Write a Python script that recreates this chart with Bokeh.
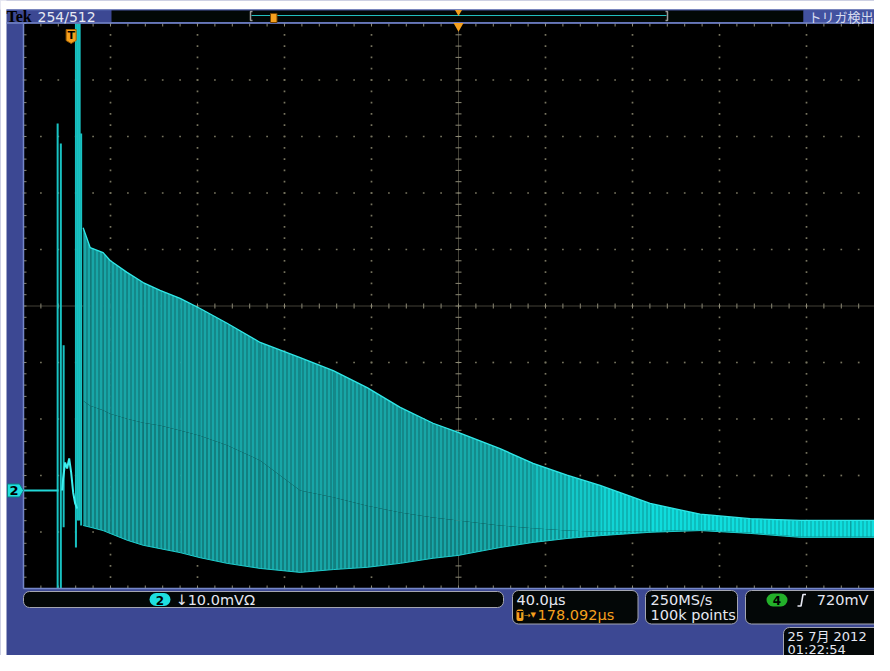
import numpy as np
from bokeh.plotting import figure
from bokeh.models import Range1d, BoxAnnotation
from bokeh.core.properties import value
from bokeh.embed import file_html
from bokeh.resources import INLINE

# ---------------- scope settings ----------------
time_per_div_us = 40.0
volts_per_div_mv = 10.0
trigger_delay_us = 178.092          # trigger -> centre of screen
n_hdiv = 10
n_vdiv = 10
ground_div_below_centre = 3.265     # channel 2 ground marker, divisions below centre

# ---------------- trace (us / mV) ----------------
# flat baseline before the burst
base_t = [-21.9, -5.8]
base_v = [0.0, 0.0]

# early spikes: time, top, bottom
spike_t = [-6.21, -4.74, -3.45, 2.20, 3.13, 3.91, 4.60]
spike_hi = [64.96, 61.40, 25.70, 82.65, 82.65, 82.65, 63.20]
spike_lo = [-17.35, -17.35, -6.50, -10.10, -5.30, -5.30, -6.20]

# small wiggle between the spikes
wig_t = [-4.14, -3.68, -2.76, -1.84, -0.92, 0.0, 0.92, 1.84, 2.76]
wig_v = [0.0, 2.12, 4.96, 3.89, 5.66, 3.19, -0.35, -2.30, -3.19]

# envelope of the ringing
env_t = [5.52, 8.74, 14.7, 17.9, 25.7, 33.1, 40.9, 50.1, 59.3, 71.7, 86.9, 105.3,
         120.5, 136.1, 151.3, 166.4, 177.9, 197.2, 212.4, 228.0, 243.2, 266.2,
         289.2, 312.2, 335.2, 358.2, 377.9]
env_hi = [46.5, 43.0, 42.1, 40.7, 38.6, 36.8, 35.4, 34.0, 32.2, 29.6, 26.2, 23.5,
          21.2, 18.2, 14.7, 11.9, 10.3, 7.4, 4.8, 2.7, 0.9, -2.3,
          -4.2, -5.0, -5.3, -5.3, -5.3]
env_lo = [-6.2, -6.5, -7.1, -7.6, -8.8, -9.7, -10.3, -11.0, -11.9, -12.9, -13.8, -14.5,
          -14.0, -13.6, -12.9, -12.0, -11.5, -10.1, -9.2, -8.5, -8.0, -7.4,
          -7.1, -7.6, -8.3, -8.3, -8.3]
# lower edge of the densely written part of the ringing, same times
dense_lo = [15.9, 15.0, 14.2, 13.6, 12.7, 12.0, 11.5, 10.6, 9.7, 8.0, 5.3, 0.0,
            -1.2, -2.7, -3.9, -4.8, -5.3, -6.2, -6.7, -7.1, -7.3, -7.2,
            -7.0, -7.5, -8.2, -8.2, -8.2]

# ---------------- readouts ----------------
record_label = "254/512"
status_label = "トリガ検出"
ch_label = "2"
ch_scale = "↓10.0mVΩ"
hscale = "40.0µs"
hdelay = "178.092µs"
srate = "250MS/s"
rlen = "100k points"
trig_ch = "4"
trig_level = "720mV"
date_txt = "25 7月  2012"
time_txt = "01:22:54"

# ---------------- geometry (pixels from the top-left corner) ----------------
W, H = 874, 655
grat_left_px, grat_top_px = 23.0, 23.0
div_w_px, div_h_px = 87.0, 56.5


def X(xr):
    return xr


def Y(yr):
    return H - yr


t_left = trigger_delay_us - n_hdiv / 2 * time_per_div_us
t_right = t_left + n_hdiv * time_per_div_us
t_c = trigger_delay_us
v_bot = -(n_vdiv / 2 - ground_div_below_centre) * volts_per_div_mv
v_top = v_bot + n_vdiv * volts_per_div_mv
v_c = v_bot + n_vdiv / 2 * volts_per_div_mv
us_px = time_per_div_us / div_w_px
mv_px = volts_per_div_mv / div_h_px
grat_bottom_px = grat_top_px + n_vdiv * div_h_px

BLUE = "#3c4893"
EDGE = "#7486c8"
ORANGE = "#f5a01e"
WHITE = "#e6e8f2"
FONT = value("DejaVu Sans")
JFONT = value("DejaVu Sans, Noto Sans CJK JP")

p = figure(width=W, height=H, x_range=Range1d(0, W), y_range=Range1d(0, H),
           output_backend="svg", toolbar_location=None, min_border=0,
           x_axis_location=None, y_axis_location=None,
           background_fill_color=BLUE, border_fill_color=BLUE, outline_line_color=None)
p.grid.visible = False
p.extra_x_ranges = {"t": Range1d(t_left - grat_left_px * us_px, t_left + (W - grat_left_px) * us_px)}
p.extra_y_ranges = {"v": Range1d(v_bot - (H - grat_bottom_px) * mv_px, v_top + grat_top_px * mv_px)}
TV = dict(x_range_name="t", y_range_name="v")

# white page margin of the screenshot (top and left)
p.quad(left=[-5, -5], right=[W + 5, X(6)], top=[H + 5, H + 5], bottom=[Y(9), -5],
       fill_color="white", line_color=None)

# ---------------- graticule ----------------
p.quad(left=[t_left], right=[t_right], bottom=[v_bot], top=[v_top], fill_color="black",
       line_color=None, **TV)

minor_t = t_left + np.arange(0, 5 * n_hdiv + 1) * time_per_div_us / 5
minor_v = v_bot + np.arange(0, 5 * n_vdiv + 1) * volts_per_div_mv / 5
major_t = [t_left + k * time_per_div_us for k in range(1, n_hdiv) if k != n_hdiv // 2]
major_v = [v_bot + k * volts_per_div_mv for k in range(1, n_vdiv) if k != n_vdiv // 2]
gx = [t for t in major_t for _ in minor_v] + [t for _ in major_v for t in minor_t]
gy = [v for _ in major_t for v in minor_v] + [v for v in major_v for _ in minor_t]
p.scatter(gx, gy, marker="square", size=1.7, fill_color="#77745f", line_color=None, **TV)

p.line([t_c, t_c], [v_bot, v_top], line_color="#86836f", line_dash="1 1", line_width=1, **TV)
p.line([t_left, t_right], [v_c, v_c], line_color="#86836f", line_dash="1 1", line_width=1, **TV)
p.segment(x0=[t_c - 3 * us_px] * len(minor_v), x1=[t_c + 3 * us_px] * len(minor_v),
          y0=minor_v, y1=minor_v, line_color="#8c8975", line_width=1, **TV)
p.segment(x0=minor_t, x1=minor_t, y0=[v_c - 2.5 * mv_px] * len(minor_t),
          y1=[v_c + 2.5 * mv_px] * len(minor_t), line_color="#8c8975", line_width=1, **TV)
# edge ticks
p.segment(x0=minor_t, x1=minor_t, y0=[v_top] * len(minor_t), y1=[v_top - 3 * mv_px] * len(minor_t),
          line_color="#8c8975", line_width=1, **TV)
p.segment(x0=minor_t, x1=minor_t, y0=[v_bot] * len(minor_t), y1=[v_bot + 3 * mv_px] * len(minor_t),
          line_color="#8c8975", line_width=1, **TV)
p.segment(x0=[t_left] * len(minor_v), x1=[t_left + 3 * us_px] * len(minor_v), y0=minor_v, y1=minor_v,
          line_color="#8c8975", line_width=1, **TV)

# ---------------- trace ----------------
# fill gets brighter as the ringing dies away; lower (sparse) part shows more dark gaps
seg_fill = ["#18a6a7"] * 16 + ["#17aaaa", "#16b3b3", "#15bebe", "#13c9c9", "#11d4d4",
                                "#0fdcdc", "#0fdede", "#0fdede", "#0fdede", "#0fdede"]
seg_hatch = [0.36] * 16 + [0.35, 0.34, 0.33, 0.31, 0.3, 0.28, 0.28, 0.28, 0.28, 0.28]
for k in range(len(env_t) - 1):
    sl = slice(k, k + 2)
    p.varea(x=env_t[sl], y1=env_lo[sl], y2=dense_lo[sl], fill_color=seg_fill[k],
            hatch_pattern="|", hatch_color="black", hatch_alpha=seg_hatch[k] + 0.1, hatch_scale=4,
            hatch_weight=1, **TV)
    p.varea(x=env_t[sl], y1=dense_lo[sl], y2=env_hi[sl], fill_color=seg_fill[k],
            hatch_pattern="|", hatch_color="black", hatch_alpha=seg_hatch[k], hatch_scale=4,
            hatch_weight=1, **TV)
p.line(env_t, env_hi, line_color="#30e8e8", line_width=1.3, **TV)
p.line(env_t, env_lo, line_color="#1fcccc", line_width=1, **TV)
p.segment(x0=spike_t, x1=spike_t, y0=spike_lo, y1=spike_hi, line_color="#18c2c2", line_width=2, **TV)
p.line(wig_t, wig_v, line_color="#3ef0f0", line_width=2, **TV)
p.line(base_t, base_v, line_color="#22d8d8", line_width=2, **TV)

# ---------------- graticule border ----------------
p.line([t_left, t_left], [v_bot, v_top], line_color=EDGE, line_width=1.5, **TV)
p.line([t_left, t_right], [v_bot, v_bot], line_color=EDGE, line_width=1.5, **TV)
p.line([X(6), W], [Y(22.5), Y(22.5)], line_color=EDGE, line_width=1.5)

# ground marker "2" (at 0 mV)
gh = 6.5 * mv_px
p.patch([X(7), X(19), X(23), X(19), X(7)], [gh, gh, 0, -gh, -gh], y_range_name="v",
        fill_color="#1ee0e0", line_color="#0a8080", line_width=1)
p.text([X(13.5)], [0], text=[ch_label], y_range_name="v", text_font=FONT, text_font_size="13px",
       text_font_style="bold", text_color="black", text_align="center", text_baseline="middle")

# trigger-point badge "T" at t = 0
bw = 5 * us_px
p.patch([-bw, bw, bw, 0, -bw], [Y(29), Y(29), Y(40), Y(43), Y(40)], x_range_name="t",
        fill_color=ORANGE, line_color="#a06000", line_width=1)
p.text([0], [Y(35)], text=["T"], x_range_name="t", text_font=FONT, text_font_size="11px",
       text_font_style="bold", text_color="black", text_align="center", text_baseline="middle")
# expansion point marker at the centre
p.scatter([t_c], [Y(25.5)], x_range_name="t", marker="inverted_triangle", size=10,
          fill_color=ORANGE, line_color=None)

# ---------------- top bar ----------------
p.line([X(6), W], [Y(9.5), Y(9.5)], line_color="#5566b0", line_width=1)
p.quad(left=[X(111)], right=[X(803)], top=[Y(10)], bottom=[Y(21.5)], fill_color="#020806", line_color=None)
p.quad(left=[X(803)], right=[W + 5], top=[Y(10)], bottom=[Y(21.5)], fill_color="#4252a0", line_color=None)
p.text([X(6)], [Y(16)], text=["Tek"], text_font=value("Liberation Serif"), text_font_size="16px",
       text_font_style="bold", text_color="black", text_baseline="middle")
p.text([X(37)], [Y(16)], text=[record_label], text_font=FONT, text_font_size="14px",
       text_color=WHITE, text_baseline="middle")
p.text([X(808)], [Y(16)], text=[status_label], text_font=value("Noto Sans CJK JP"), text_font_size="13px",
       text_color="#d8dcf0", text_baseline="middle")
# record view
p.line([X(251), X(666)], [Y(15), Y(15)], line_color="#22c0c0", line_width=1)
p.line([X(252), X(250), X(250), X(252)], [Y(11), Y(11), Y(20), Y(20)], line_color="#9a9a9a", line_width=1.5)
p.line([X(665), X(667), X(667), X(665)], [Y(11), Y(11), Y(20), Y(20)], line_color="#9a9a9a", line_width=1.5)
p.quad(left=[X(270)], right=[X(276.5)], top=[Y(13)], bottom=[Y(22)], fill_color=ORANGE,
       line_color="#704000", line_width=1)
p.scatter([X(458)], [Y(11.5)], marker="inverted_triangle", size=7, fill_color=ORANGE, line_color=None)


# ---------------- bottom readouts ----------------
def rbox(l, r, t, b, fill="#030707", line="#a4a6b2", rad=6):
    p.add_layout(BoxAnnotation(left=X(l), right=X(r), top=Y(t), bottom=Y(b), fill_color=fill,
                               fill_alpha=1, line_color=line, line_width=1, line_alpha=1,
                               border_radius=rad, level="underlay"))


def txt(x, y, s, color=WHITE, size="14.5px", font=FONT, style="normal", align="left"):
    p.text([X(x)], [Y(y)], text=[s], text_font=font, text_font_size=size, text_color=color,
           text_font_style=style, text_align=align, text_baseline="middle")


rbox(23, 503, 591, 607)
rbox(149, 170, 592.5, 605.5, fill="#1ee0e0", line=None, rad=7)
txt(159.5, 599.5, ch_label, color="black", size="12px", style="bold", align="center")
txt(175, 599.5, ch_scale)

rbox(512, 637.5, 590, 623.5)
txt(516, 599, hscale)
rbox(516, 523, 609, 620.5, fill=ORANGE, line=None, rad=2)
txt(519.5, 614.5, "T", color="black", size="9px", style="bold", align="center")
txt(523.5, 614.5, "→", color=ORANGE, size="8px")
txt(530, 614.5, "▼", color=ORANGE, size="7px")
txt(537, 614.5, hdelay, color=ORANGE)

rbox(645, 737, 590, 623.5)
txt(650, 599, srate)
txt(650, 614.5, rlen)

rbox(745, 900, 590, 623.5)
rbox(766, 787, 593, 606, fill="#23b02a", line=None, rad=7)
txt(776.5, 599.5, trig_ch, color="black", size="12px", style="bold", align="center")
p.line([X(797), X(800.5), X(802.5), X(805.5)], [Y(605.5), Y(605.5), Y(594), Y(594)],
       line_color=WHITE, line_width=1.6)
txt(868, 599, trig_level, align="right")

rbox(783, 900, 627, 680)
txt(787, 635.5, date_txt, font=JFONT, size="13px")
txt(787, 648.5, time_txt, size="13px")

open("out.html", "w").write(file_html(p, INLINE))
